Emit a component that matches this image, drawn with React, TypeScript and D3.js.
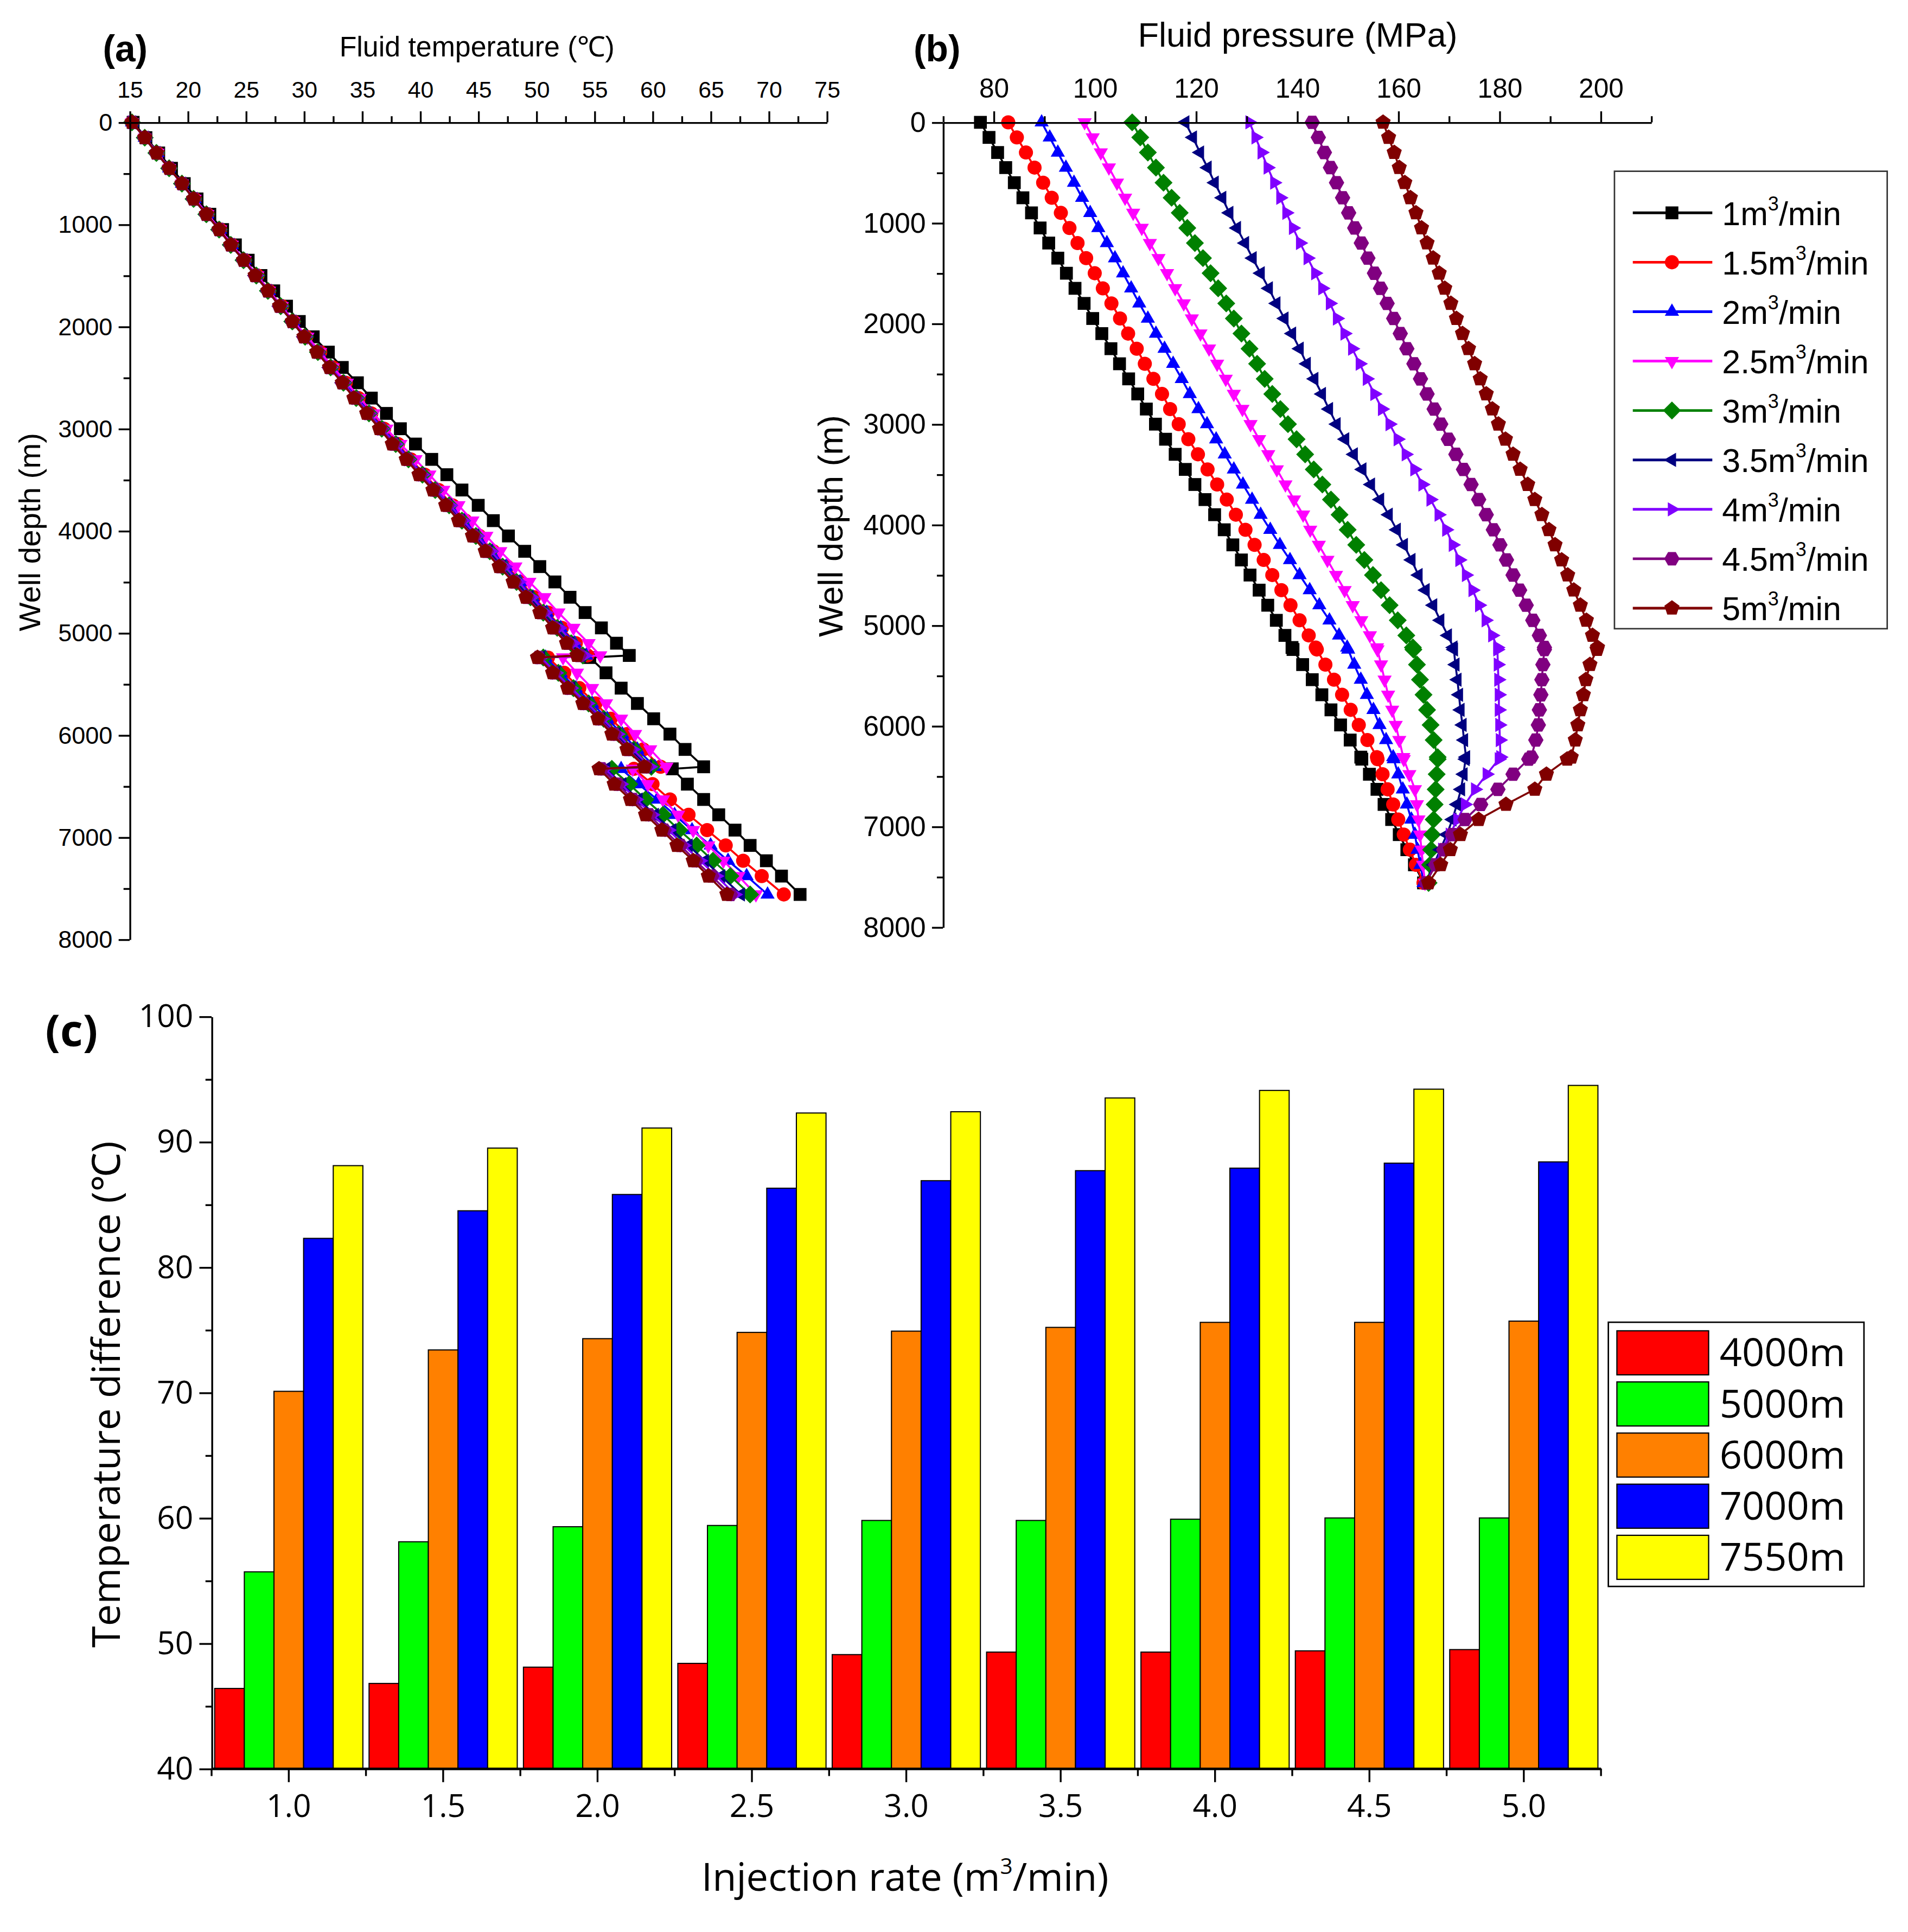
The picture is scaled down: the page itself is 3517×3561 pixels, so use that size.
import React, { useEffect, useRef } from 'react';
import * as d3 from 'd3';

// depth nodes (m) shared by the two profile panels; the doubled nodes near 5220 m and 6310 m carry the jumps
const DEPTHS = [0, 150, 300, 450, 600, 750, 900, 1050, 1200, 1350, 1500, 1650, 1800, 1950, 2100, 2250, 2400, 2550, 2700, 2850, 3000, 3150, 3300, 3450, 3600, 3750, 3900, 4050, 4200, 4350, 4500, 4650, 4800, 4950, 5100, 5220, 5240, 5390, 5540, 5690, 5840, 5990, 6140, 6310, 6330, 6480, 6630, 6780, 6930, 7080, 7230, 7380, 7560];

const RATE_LABELS = ['1', '1.5', '2', '2.5', '3', '3.5', '4', '4.5', '5'];

// (a) fluid temperature, deg C
const TEMP_1 = [15.3, 16.4, 17.5, 18.6, 19.7, 20.8, 21.9, 23.0, 24.1, 25.2, 26.3, 27.4, 28.5, 29.6, 30.8, 32.1, 33.3, 34.6, 35.8, 37.1, 38.3, 39.6, 41.0, 42.3, 43.6, 45.0, 46.3, 47.6, 49.0, 50.3, 51.6, 52.9, 54.2, 55.6, 56.9, 58.0, 54.6, 56.0, 57.3, 58.7, 60.1, 61.5, 62.8, 64.4, 61.7, 63.0, 64.4, 65.7, 67.1, 68.4, 69.8, 71.1, 72.7];
const TEMP_15 = [15.2, 16.3, 17.4, 18.4, 19.5, 20.6, 21.7, 22.8, 23.8, 24.9, 26.0, 27.0, 28.1, 29.1, 30.2, 31.4, 32.5, 33.6, 34.7, 35.8, 36.9, 38.1, 39.2, 40.4, 41.6, 42.8, 43.9, 45.1, 46.3, 47.5, 48.7, 49.8, 51.0, 52.2, 53.4, 54.4, 51.0, 52.4, 53.7, 55.1, 56.4, 57.8, 59.2, 60.7, 58.4, 60.0, 61.5, 63.1, 64.7, 66.3, 67.8, 69.4, 71.3];
const TEMP_2 = [15.2, 16.3, 17.4, 18.4, 19.5, 20.6, 21.7, 22.8, 23.8, 24.9, 25.9, 27.0, 28.0, 29.1, 30.1, 31.3, 32.4, 33.5, 34.6, 35.7, 36.8, 38.0, 39.1, 40.3, 41.5, 42.7, 43.8, 45.0, 46.2, 47.4, 48.6, 49.7, 50.9, 52.1, 53.3, 54.3, 50.8, 52.1, 53.4, 54.8, 56.1, 57.4, 58.7, 60.2, 57.3, 58.8, 60.4, 61.9, 63.4, 65.0, 66.5, 68.1, 69.9];
const TEMP_25 = [15.2, 16.3, 17.4, 18.4, 19.5, 20.6, 21.7, 22.8, 23.8, 24.9, 26.0, 27.0, 28.1, 29.1, 30.3, 31.4, 32.5, 33.7, 34.8, 36.0, 37.1, 38.3, 39.6, 40.8, 42.0, 43.3, 44.5, 45.7, 46.9, 48.2, 49.4, 50.7, 51.9, 53.2, 54.5, 55.5, 52.3, 53.5, 54.8, 56.0, 57.3, 58.5, 59.8, 61.2, 58.3, 59.6, 60.9, 62.2, 63.5, 64.8, 66.1, 67.4, 68.9];
const TEMP_3 = [15.2, 16.3, 17.3, 18.4, 19.5, 20.5, 21.6, 22.7, 23.7, 24.8, 25.9, 26.9, 28.0, 29.0, 30.1, 31.2, 32.3, 33.4, 34.5, 35.6, 36.7, 37.9, 39.0, 40.2, 41.3, 42.5, 43.6, 44.8, 46.0, 47.1, 48.3, 49.5, 50.6, 51.8, 53.0, 54.0, 50.6, 51.9, 53.2, 54.5, 55.8, 57.1, 58.4, 59.9, 56.5, 58.0, 59.4, 60.9, 62.3, 63.8, 65.2, 66.7, 68.4];
const TEMP_35 = [15.2, 16.3, 17.3, 18.4, 19.5, 20.5, 21.6, 22.7, 23.7, 24.8, 25.8, 26.9, 27.9, 29.0, 30.0, 31.2, 32.2, 33.3, 34.4, 35.5, 36.6, 37.8, 38.9, 40.1, 41.2, 42.4, 43.5, 44.7, 45.9, 47.0, 48.2, 49.4, 50.5, 51.7, 52.9, 53.9, 50.4, 51.7, 53.0, 54.3, 55.6, 56.9, 58.1, 59.6, 56.0, 57.4, 58.8, 60.2, 61.7, 63.1, 64.5, 65.9, 67.6];
const TEMP_4 = [15.2, 16.3, 17.3, 18.4, 19.5, 20.5, 21.6, 22.7, 23.7, 24.8, 25.9, 26.9, 28.0, 29.0, 30.1, 31.2, 32.3, 33.4, 34.5, 35.6, 36.7, 37.9, 39.0, 40.2, 41.4, 42.6, 43.7, 44.9, 46.1, 47.3, 48.5, 49.6, 50.8, 52.0, 53.2, 54.2, 50.4, 51.7, 53.0, 54.4, 55.7, 57.0, 58.3, 59.8, 55.9, 57.3, 58.6, 60.0, 61.4, 62.7, 64.1, 65.5, 67.1];
const TEMP_45 = [15.2, 16.3, 17.3, 18.4, 19.5, 20.5, 21.6, 22.7, 23.7, 24.8, 25.8, 26.9, 27.9, 29.0, 30.0, 31.2, 32.2, 33.3, 34.4, 35.5, 36.6, 37.7, 38.9, 40.0, 41.2, 42.3, 43.4, 44.6, 45.7, 46.9, 48.1, 49.2, 50.4, 51.5, 52.7, 53.7, 50.2, 51.5, 52.8, 54.1, 55.4, 56.7, 57.9, 59.4, 55.6, 57.0, 58.3, 59.7, 61.0, 62.4, 63.7, 65.1, 66.7];
const TEMP_5 = [15.2, 16.3, 17.3, 18.4, 19.5, 20.5, 21.6, 22.7, 23.7, 24.8, 25.8, 26.9, 27.9, 29.0, 30.0, 31.1, 32.2, 33.3, 34.3, 35.4, 36.5, 37.6, 38.8, 39.9, 41.1, 42.2, 43.3, 44.5, 45.6, 46.8, 48.0, 49.1, 50.3, 51.4, 52.6, 53.5, 50.1, 51.4, 52.7, 54.0, 55.3, 56.5, 57.8, 59.3, 55.4, 56.7, 58.1, 59.4, 60.8, 62.1, 63.5, 64.8, 66.4];

// (b) fluid pressure, MPa
const PRES_1 = [77.4, 79.1, 80.8, 82.4, 84.1, 85.8, 87.5, 89.2, 90.9, 92.7, 94.4, 96.1, 97.9, 99.6, 101.4, 103.2, 104.9, 106.7, 108.5, 110.2, 112.0, 114.0, 115.9, 117.9, 119.8, 121.8, 123.7, 125.6, 127.3, 129.0, 130.7, 132.5, 134.2, 135.9, 137.6, 139.0, 139.2, 141.1, 143.0, 144.9, 146.7, 148.6, 150.5, 152.6, 152.8, 154.3, 155.8, 157.2, 158.7, 160.2, 161.7, 163.2, 165.0];
const PRES_15 = [82.9, 84.6, 86.4, 88.1, 89.8, 91.5, 93.3, 95.0, 96.6, 98.3, 100.0, 101.6, 103.3, 105.0, 106.6, 108.3, 109.9, 111.6, 113.3, 114.9, 116.6, 118.5, 120.4, 122.3, 124.2, 126.1, 127.9, 129.8, 131.6, 133.4, 135.1, 136.9, 138.7, 140.5, 142.3, 143.7, 143.9, 145.6, 147.3, 148.9, 150.6, 152.2, 153.9, 155.8, 155.9, 156.9, 157.9, 159.0, 160.0, 161.1, 162.3, 163.5, 165.0];
const PRES_2 = [89.5, 91.1, 92.7, 94.3, 95.9, 97.5, 99.1, 100.7, 102.4, 104.0, 105.6, 107.2, 108.8, 110.5, 112.1, 113.8, 115.5, 117.2, 118.8, 120.5, 122.2, 124.0, 125.7, 127.5, 129.3, 131.1, 132.8, 134.7, 136.6, 138.6, 140.5, 142.5, 144.4, 146.4, 148.3, 149.9, 150.1, 151.3, 152.6, 153.8, 155.1, 156.3, 157.6, 159.0, 159.1, 160.0, 160.9, 161.7, 162.6, 163.3, 163.8, 164.4, 165.0];
const PRES_25 = [98.0, 99.6, 101.2, 102.8, 104.4, 106.0, 107.6, 109.3, 110.9, 112.6, 114.3, 115.9, 117.6, 119.2, 120.9, 122.6, 124.2, 125.9, 127.5, 129.2, 130.8, 132.5, 134.3, 136.0, 137.7, 139.4, 141.2, 142.6, 144.3, 146.0, 147.7, 149.4, 151.0, 152.7, 154.4, 155.8, 155.9, 156.6, 157.3, 158.0, 158.8, 159.5, 160.2, 161.0, 161.1, 162.2, 163.3, 163.7, 164.0, 164.3, 164.6, 164.9, 165.3];
const PRES_3 = [107.4, 109.0, 110.5, 112.1, 113.6, 115.2, 116.8, 118.3, 119.8, 121.4, 122.9, 124.4, 126.0, 127.5, 129.0, 130.6, 132.1, 133.6, 135.1, 136.7, 138.2, 139.9, 141.6, 143.3, 145.0, 146.7, 148.4, 150.0, 151.7, 153.3, 155.0, 156.6, 158.3, 159.9, 161.6, 162.9, 163.0, 163.7, 164.3, 165.0, 165.7, 166.4, 167.0, 167.8, 167.8, 167.6, 167.4, 167.2, 167.0, 166.7, 166.5, 166.3, 166.0];
const PRES_35 = [117.9, 119.4, 120.8, 122.3, 123.7, 125.2, 126.6, 128.1, 129.7, 131.2, 132.8, 134.4, 135.9, 137.5, 139.0, 140.5, 141.9, 143.4, 144.9, 146.3, 147.8, 149.5, 151.2, 152.9, 154.6, 156.4, 158.1, 159.7, 161.1, 162.6, 164.0, 165.4, 166.9, 168.3, 169.8, 170.9, 171.0, 171.3, 171.7, 172.0, 172.3, 172.7, 173.0, 173.4, 173.3, 172.9, 172.4, 171.6, 170.7, 169.6, 168.3, 167.0, 165.5];
const PRES_4 = [130.6, 131.8, 133.0, 134.2, 135.5, 136.7, 137.9, 139.2, 140.6, 142.1, 143.6, 145.0, 146.5, 147.9, 149.4, 150.9, 152.4, 153.8, 155.3, 156.8, 158.3, 159.9, 161.5, 163.2, 164.8, 166.4, 168.0, 169.5, 170.8, 172.1, 173.4, 174.7, 176.0, 177.3, 178.6, 179.6, 179.6, 179.7, 179.8, 179.9, 179.9, 180.0, 180.1, 180.2, 179.9, 177.5, 175.2, 173.2, 171.7, 170.2, 168.7, 167.3, 165.5];
const PRES_45 = [143.0, 144.2, 145.4, 146.6, 147.8, 149.0, 150.2, 151.4, 152.7, 154.0, 155.3, 156.5, 157.8, 159.1, 160.4, 161.7, 163.1, 164.4, 165.7, 167.1, 168.4, 169.9, 171.4, 172.9, 174.4, 175.9, 177.4, 178.8, 180.1, 181.4, 182.7, 184.0, 185.3, 186.6, 187.9, 188.9, 188.9, 188.6, 188.4, 188.2, 187.9, 187.7, 187.2, 186.3, 185.8, 182.7, 179.7, 176.3, 173.2, 170.7, 169.0, 167.4, 165.5];
const PRES_5 = [157.0, 158.1, 159.2, 160.2, 161.3, 162.4, 163.5, 164.6, 165.7, 166.9, 168.1, 169.2, 170.4, 171.5, 172.7, 173.9, 175.1, 176.2, 177.4, 178.6, 179.8, 181.2, 182.7, 184.1, 185.6, 187.0, 188.4, 189.8, 191.0, 192.3, 193.5, 194.7, 196.0, 197.2, 198.4, 199.4, 199.3, 197.9, 197.1, 196.6, 196.0, 195.5, 195.0, 194.2, 193.4, 189.3, 187.0, 181.3, 175.9, 172.3, 170.3, 168.4, 166.0];

const TEMP_SERIES = [TEMP_1, TEMP_15, TEMP_2, TEMP_25, TEMP_3, TEMP_35, TEMP_4, TEMP_45, TEMP_5];
const PRES_SERIES = [PRES_1, PRES_15, PRES_2, PRES_25, PRES_3, PRES_35, PRES_4, PRES_45, PRES_5];

const TEMP_TICKS = [15, 20, 25, 30, 35, 40, 45, 50, 55, 60, 65, 70, 75];
const PRES_TICKS = [80, 100, 120, 140, 160, 180, 200];
const DEPTH_TICKS = [0, 1000, 2000, 3000, 4000, 5000, 6000, 7000, 8000];

// (c) temperature difference, deg C
const BAR_RATES = ['1.0', '1.5', '2.0', '2.5', '3.0', '3.5', '4.0', '4.5', '5.0'];
const BAR_DEPTHS = ['4000m', '5000m', '6000m', '7000m', '7550m'];
const DIFF_4000 = [46.4, 46.8, 48.1, 48.4, 49.1, 49.3, 49.3, 49.4, 49.5];
const DIFF_5000 = [55.7, 58.1, 59.3, 59.4, 59.8, 59.8, 59.9, 60.0, 60.0];
const DIFF_6000 = [70.1, 73.4, 74.3, 74.8, 74.9, 75.2, 75.6, 75.6, 75.7];
const DIFF_7000 = [82.3, 84.5, 85.8, 86.3, 86.9, 87.7, 87.9, 88.3, 88.4];
const DIFF_7550 = [88.1, 89.5, 91.1, 92.3, 92.4, 93.5, 94.1, 94.2, 94.5];
const DIFF_SERIES = [DIFF_4000, DIFF_5000, DIFF_6000, DIFF_7000, DIFF_7550];
const DIFF_TICKS = [40, 50, 60, 70, 80, 90, 100];

const LINE_COLORS = ['#000000', '#FF0000', '#0000FF', '#FF00FF', '#008000', '#000080', '#8000FF', '#800080', '#800000'];
const LINE_SHAPES = ['square', 'circle', 'up', 'down', 'diamond', 'left', 'right', 'hexagon', 'pentagon'];
const BAR_COLORS = ['#FF0000', '#00FF00', '#FF8000', '#0000FF', '#FFFF00'];

const ARIAL = "'Liberation Sans', Arial, sans-serif";
const YAHEI = "'Open Sans', 'Noto Sans', sans-serif";

type Sel = d3.Selection<SVGGElement, unknown, null, undefined>;

function polygon(n: number, r: number, rot: number) {
  const pts = d3.range(n).map(i => {
    const a = ((rot + (360 / n) * i) * Math.PI) / 180;
    return [r * Math.cos(a), r * Math.sin(a)];
  });
  return 'M' + pts.map(p => p[0].toFixed(2) + ',' + p[1].toFixed(2)).join('L') + 'Z';
}

function markerPath(shape: string, s: number) {
  switch (shape) {
    case 'square': return polygon(4, s / Math.SQRT2, 45);
    case 'circle': return d3.symbol().type(d3.symbolCircle).size(Math.PI * (s * 0.55) ** 2)() as string;
    case 'up': return polygon(3, s * 0.64, -90);
    case 'down': return polygon(3, s * 0.64, 90);
    case 'left': return polygon(3, s * 0.64, 180);
    case 'right': return polygon(3, s * 0.64, 0);
    case 'diamond': return polygon(4, s * 0.7, -90);
    case 'hexagon': return polygon(6, s * 0.6, 0);
    default: return polygon(5, s * 0.62, -90);
  }
}

function styleAxis(g: Sel, font: string, size: number) {
  g.select('.domain').attr('stroke', '#000').attr('stroke-width', 1.5);
  g.selectAll('.tick line').attr('stroke', '#000').attr('stroke-width', 1.5);
  g.selectAll('.tick text').attr('font-family', font).attr('font-size', size).attr('fill', '#000');
}

function drawProfile(
  root: Sel,
  x: d3.ScaleLinear<number, number>,
  y: d3.ScaleLinear<number, number>,
  series: number[][],
  xTicks: number[],
  xMinor: number[],
  fontX: number,
  fontY: number,
) {
  const g = root.append('g');
  series.forEach((vals, i) => {
    const pts = vals.map((v, j) => [x(v), y(DEPTHS[j])] as [number, number]);
    g.append('path')
      .attr('d', d3.line()(pts))
      .attr('fill', 'none')
      .attr('stroke', LINE_COLORS[i])
      .attr('stroke-width', 1.6);
    g.append('g')
      .selectAll('path')
      .data(pts)
      .join('path')
      .attr('transform', d => `translate(${d[0]},${d[1]})`)
      .attr('d', markerPath(LINE_SHAPES[i], 10.5))
      .attr('fill', LINE_COLORS[i]);
  });

  const y0 = y.range()[0];
  const x0 = x.range()[0];
  const top = g.append('g').attr('transform', `translate(0,${y0})`);
  top.call(d3.axisTop(x).tickValues(xTicks).tickSize(9).tickSizeOuter(0).tickPadding(11).tickFormat(d3.format('d')));
  styleAxis(top, ARIAL, fontX);
  const topMinor = g.append('g').attr('transform', `translate(0,${y0})`);
  topMinor.call(d3.axisTop(x).tickValues(xMinor).tickSize(5).tickFormat(() => ''));
  topMinor.select('.domain').remove();
  styleAxis(topMinor, ARIAL, fontX);

  const left = g.append('g').attr('transform', `translate(${x0},0)`);
  left.call(d3.axisLeft(y).tickValues(DEPTH_TICKS).tickSize(9).tickSizeOuter(0).tickPadding(5).tickFormat(d3.format('d')));
  styleAxis(left, ARIAL, fontY);
  const leftMinor = g.append('g').attr('transform', `translate(${x0},0)`);
  leftMinor.call(d3.axisLeft(y).tickValues(DEPTH_TICKS.slice(0, -1).map(d => d + 500)).tickSize(5).tickFormat(() => ''));
  leftMinor.select('.domain').remove();
  styleAxis(leftMinor, ARIAL, fontY);
}

function drawTemperature(root: Sel) {
  const x = d3.scaleLinear().domain([15, 75]).range([106, 676]);
  const y = d3.scaleLinear().domain([0, 8000]).range([100, 768]);
  drawProfile(root, x, y, TEMP_SERIES, TEMP_TICKS, TEMP_TICKS.slice(0, -1).map(t => t + 2.5), 19, 20);

  root.append('text').attr('x', 84).attr('y', 50).attr('font-family', ARIAL).attr('font-weight', 'bold')
    .attr('font-size', 30).text('(a)');
  root.append('text').attr('x', 390).attr('y', 46).attr('text-anchor', 'middle').attr('font-family', ARIAL)
    .attr('font-size', 23).text('Fluid temperature (℃)');
  root.append('text').attr('transform', 'translate(33,435) rotate(-90)').attr('text-anchor', 'middle')
    .attr('font-family', ARIAL).attr('font-size', 25).text('Well depth (m)');
}

function drawPressure(root: Sel) {
  const x = d3.scaleLinear().domain([70, 210]).range([771, 1350]);
  const y = d3.scaleLinear().domain([0, 8000]).range([100, 758]);
  drawProfile(root, x, y, PRES_SERIES, PRES_TICKS, PRES_TICKS.map(t => t - 10).concat([210]), 22, 23);

  root.append('text').attr('x', 747).attr('y', 50).attr('font-family', ARIAL).attr('font-weight', 'bold')
    .attr('font-size', 30).text('(b)');
  root.append('text').attr('x', 1061).attr('y', 38).attr('text-anchor', 'middle').attr('font-family', ARIAL)
    .attr('font-size', 28).text('Fluid pressure (MPa)');
  root.append('text').attr('transform', 'translate(689,430) rotate(-90)').attr('text-anchor', 'middle')
    .attr('font-family', ARIAL).attr('font-size', 28).text('Well depth (m)');

  const lg = root.append('g');
  lg.append('rect').attr('x', 1320).attr('y', 140).attr('width', 223).attr('height', 374)
    .attr('fill', '#fff').attr('stroke', '#333').attr('stroke-width', 1.2);
  RATE_LABELS.forEach((lab, i) => {
    const cy = 174 + i * 40.4;
    lg.append('line').attr('x1', 1335).attr('x2', 1400).attr('y1', cy).attr('y2', cy)
      .attr('stroke', LINE_COLORS[i]).attr('stroke-width', 2.2);
    lg.append('path').attr('transform', `translate(1367,${cy})`).attr('d', markerPath(LINE_SHAPES[i], 10.5))
      .attr('fill', LINE_COLORS[i]);
    const t = lg.append('text').attr('x', 1408).attr('y', cy + 10).attr('font-family', ARIAL).attr('font-size', 27);
    t.append('tspan').text(lab + 'm');
    t.append('tspan').attr('dy', -12).attr('font-size', 16).text('3');
    t.append('tspan').attr('dy', 12).text('/min');
  });
}

function drawBars(root: Sel) {
  const x0 = d3.scaleBand().domain(BAR_RATES).range([173, 1309]).paddingInner(0.04).paddingOuter(0.02);
  const x1 = d3.scaleBand().domain(BAR_DEPTHS).range([0, x0.bandwidth()]);
  const y = d3.scaleLinear().domain([40, 100]).range([1446, 831]);
  const g = root.append('g');

  BAR_DEPTHS.forEach((dep, k) => {
    g.append('g')
      .selectAll('rect')
      .data(DIFF_SERIES[k])
      .join('rect')
      .attr('x', (_, i) => (x0(BAR_RATES[i]) as number) + (x1(dep) as number))
      .attr('y', v => y(v))
      .attr('width', x1.bandwidth())
      .attr('height', v => y(40) - y(v))
      .attr('fill', BAR_COLORS[k])
      .attr('stroke', '#000')
      .attr('stroke-width', 0.9);
  });

  const bottom = g.append('g').attr('transform', `translate(0,${y(40)})`);
  bottom.call(d3.axisBottom(x0).tickSize(11).tickSizeOuter(0).tickPadding(10));
  styleAxis(bottom, YAHEI, 26);
  const half = (x0.step() - x0.bandwidth()) / 2;
  const edges = BAR_RATES.map(r => (x0(r) as number) - half).concat([(x0(BAR_RATES[BAR_RATES.length - 1]) as number) + x0.bandwidth() + half]);
  g.append('g').selectAll('line').data(edges).join('line')
    .attr('x1', d => d).attr('x2', d => d).attr('y1', y(40)).attr('y2', y(40) + 6)
    .attr('stroke', '#000').attr('stroke-width', 1.5);
  g.append('line').attr('x1', 173).attr('x2', 1309).attr('y1', y(40)).attr('y2', y(40))
    .attr('stroke', '#000').attr('stroke-width', 1.8);

  const left = g.append('g').attr('transform', 'translate(173,0)');
  left.call(d3.axisLeft(y).tickValues(DIFF_TICKS).tickSize(10).tickSizeOuter(0).tickPadding(5).tickFormat(d3.format('d')));
  styleAxis(left, YAHEI, 26);
  const leftMinor = g.append('g').attr('transform', 'translate(173,0)');
  leftMinor.call(d3.axisLeft(y).tickValues(DIFF_TICKS.slice(0, -1).map(t => t + 5)).tickSize(5).tickFormat(() => ''));
  leftMinor.select('.domain').remove();
  styleAxis(leftMinor, YAHEI, 26);

  root.append('text').attr('x', 37).attr('y', 855).attr('font-family', YAHEI).attr('font-weight', 'bold')
    .attr('font-size', 36).text('(c)');
  root.append('text').attr('transform', 'translate(98,1140) rotate(-90)').attr('text-anchor', 'middle')
    .attr('font-family', YAHEI).attr('font-size', 32).text('Temperature difference (℃)');
  const xt = root.append('text').attr('x', 740).attr('y', 1546).attr('text-anchor', 'middle')
    .attr('font-family', YAHEI).attr('font-size', 32);
  xt.append('tspan').text('Injection rate (m');
  xt.append('tspan').attr('dy', -14).attr('font-size', 18).text('3');
  xt.append('tspan').attr('dy', 14).text('/min)');

  const lg = root.append('g');
  lg.append('rect').attr('x', 1315).attr('y', 1081).attr('width', 209).attr('height', 216)
    .attr('fill', '#fff').attr('stroke', '#000').attr('stroke-width', 1.2);
  BAR_DEPTHS.forEach((dep, k) => {
    const top = 1088 + k * 41.8;
    lg.append('rect').attr('x', 1322).attr('y', top).attr('width', 75).attr('height', 36)
      .attr('fill', BAR_COLORS[k]).attr('stroke', '#000').attr('stroke-width', 1);
    lg.append('text').attr('x', 1406).attr('y', top + 29).attr('font-family', YAHEI)
      .attr('font-size', 32).text(dep);
  });
}

export default function App() {
  const ref = useRef<SVGSVGElement>(null);

  useEffect(() => {
    if (!ref.current) return;
    const svg = d3.select(ref.current);
    svg.selectAll('*').remove();
    const root = svg.append('g') as unknown as Sel;
    drawTemperature(root);
    drawPressure(root);
    drawBars(root);
  }, []);

  return (
    <svg
      ref={ref}
      width={3517}
      height={3561}
      viewBox="0 0 1560 1579.5"
      style={{ position: 'absolute', left: 0, top: 0, background: '#fff' }}
    />
  );
}
